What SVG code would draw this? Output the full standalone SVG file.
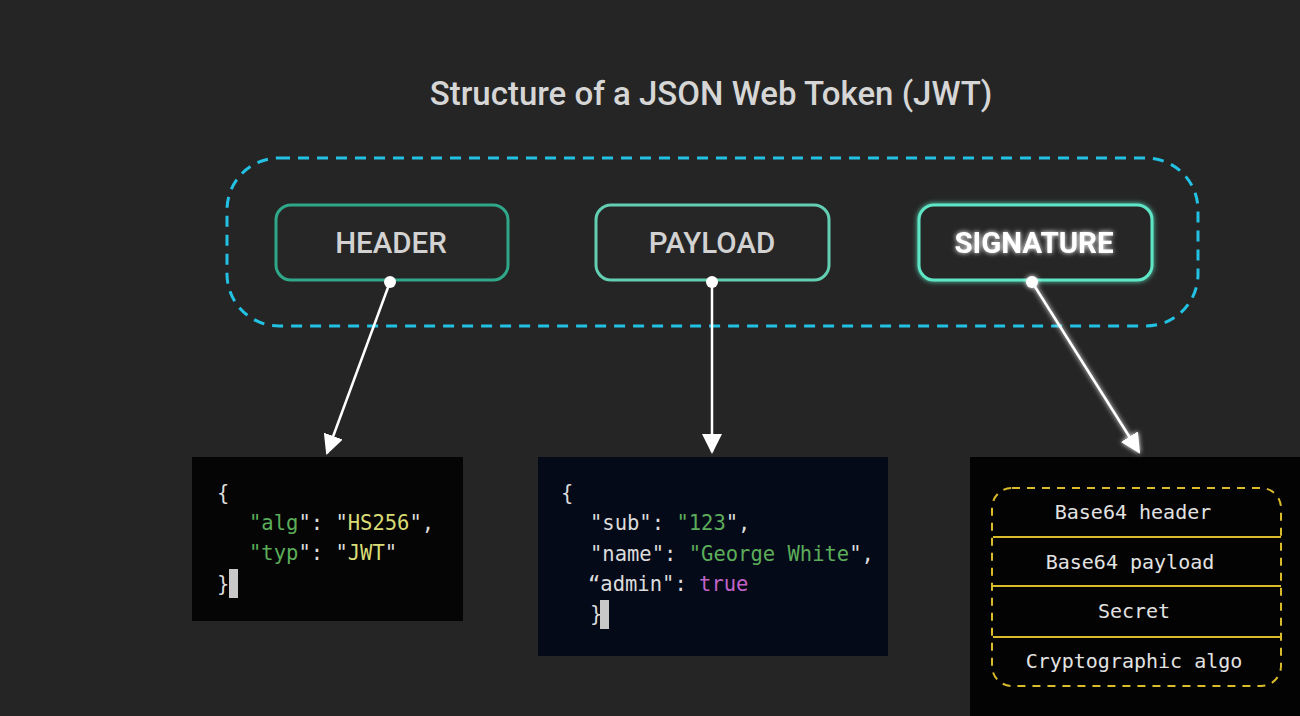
<svg xmlns="http://www.w3.org/2000/svg" width="1300" height="716" viewBox="0 0 1300 716">
<defs>
<filter id="glowSoft" x="-30%" y="-30%" width="160%" height="160%">
<feGaussianBlur in="SourceGraphic" stdDeviation="2.5" result="b"/>
<feMerge><feMergeNode in="b"/><feMergeNode in="SourceGraphic"/></feMerge>
</filter>
<marker id="arr" viewBox="0 0 10 10" refX="9" refY="5" markerWidth="8" markerHeight="8" markerUnits="strokeWidth" orient="auto">
<path d="M0,0 L10,5 L0,10 Z" fill="#ffffff"/>
</marker>
<style>
.title{font-family:Roboto,"Liberation Sans",sans-serif;font-size:33px;font-weight:500;fill:#d6d6d6;text-anchor:middle}
.node{fill:#262626;stroke-width:3}
.lbl{font-family:Roboto,"Liberation Sans",sans-serif;font-size:29.5px;font-weight:500;fill:#d2d2d2;text-anchor:middle}
.code{font-family:"DejaVu Sans Mono","Liberation Mono",monospace;font-size:20.5px;fill:#dcdcdc}
.g{fill:#5cad5a}
.y{fill:#d9dc76}
.p{fill:#c064c8}
.conn{stroke:#ffffff;stroke-width:2.5;fill:none}
.sig{font-family:"DejaVu Sans Mono","Liberation Mono",monospace;font-size:20px;fill:#e2e2e2;text-anchor:middle}
.yl{stroke:#d9bb2c;stroke-width:2}
</style>
</defs>
<rect width="1300" height="716" fill="#252525"/>
<text class="title" x="711" y="105">Structure of a JSON Web Token (JWT)</text>
<rect id="container" x="227" y="158" width="971" height="168" rx="52" fill="none" stroke="#22c2e4" stroke-width="3" stroke-dasharray="11 8"/>
<g id="header">
<rect class="node" x="276" y="205" width="232" height="75" rx="15" stroke="#2fa88a"/>
<text class="lbl" x="391" y="253">HEADER</text>
</g>
<g id="payload">
<rect class="node" x="596" y="205" width="233" height="75" rx="15" stroke="#62cfb3"/>
<text class="lbl" x="712" y="253">PAYLOAD</text>
</g>
<g id="signature">
<rect class="node" x="919" y="205" width="233" height="75" rx="15" stroke="#5fe6c6" filter="url(#glowSoft)"/>
<text class="lbl" x="1034" y="253" style="fill:#ffffff;font-weight:bold" filter="url(#glowSoft)">SIGNATURE</text>
</g>
<g id="header-json">
<rect x="192" y="457" width="271" height="164" fill="#050505"/>
<text class="code" x="217" y="500">{</text>
<text class="code" x="249" y="530"><tspan class="g">"alg</tspan>": <tspan>"</tspan><tspan class="y">HS256</tspan>",</text>
<text class="code" x="249" y="560"><tspan class="g">"typ</tspan>": <tspan>"</tspan><tspan class="y">JWT</tspan>"</text>
<text class="code" x="217" y="591">}</text>
<rect x="229" y="569" width="9" height="29" fill="#c8c8c8"/>
</g>
<g id="payload-json">
<rect x="538" y="457" width="350" height="199" fill="#050a19"/>
<text class="code" x="561" y="500">{</text>
<text class="code" x="590" y="530">"sub": <tspan class="g">"123</tspan>",</text>
<text class="code" x="590" y="561">"name": <tspan class="g">"George White</tspan>",</text>
<text class="code" x="588" y="591">“admin": <tspan class="p">true</tspan></text>
<text class="code" x="590" y="621">}</text>
<rect x="600" y="600" width="9" height="29" fill="#c8c8c8"/>
</g>
<g id="signature-parts">
<rect x="970" y="457" width="330" height="259" fill="#030303"/>
<rect x="992" y="488" width="289" height="198" rx="20" fill="none" stroke="#d9bb2c" stroke-width="2" stroke-dasharray="8 7"/>
<line class="yl" x1="993" y1="537" x2="1281" y2="537"/>
<line class="yl" x1="993" y1="586" x2="1281" y2="586"/>
<line class="yl" x1="993" y1="637" x2="1281" y2="637"/>
<text class="sig" x="1133" y="519">Base64 header</text>
<text class="sig" x="1130" y="569">Base64 payload</text>
<text class="sig" x="1134" y="618">Secret</text>
<text class="sig" x="1134" y="668">Cryptographic algo</text>
</g>
<g id="connectors">
<circle cx="390" cy="282" r="6" fill="#ffffff"/>
<line class="conn" x1="390" y1="282" x2="327" y2="453" marker-end="url(#arr)"/>
<circle cx="712" cy="282" r="6" fill="#ffffff"/>
<line class="conn" x1="712" y1="282" x2="712" y2="452" marker-end="url(#arr)"/>
<g filter="url(#glowSoft)">
<circle cx="1032" cy="282" r="6" fill="#ffffff"/>
<line class="conn" x1="1032" y1="282" x2="1139" y2="452" marker-end="url(#arr)"/>
</g>
</g>
</svg>
